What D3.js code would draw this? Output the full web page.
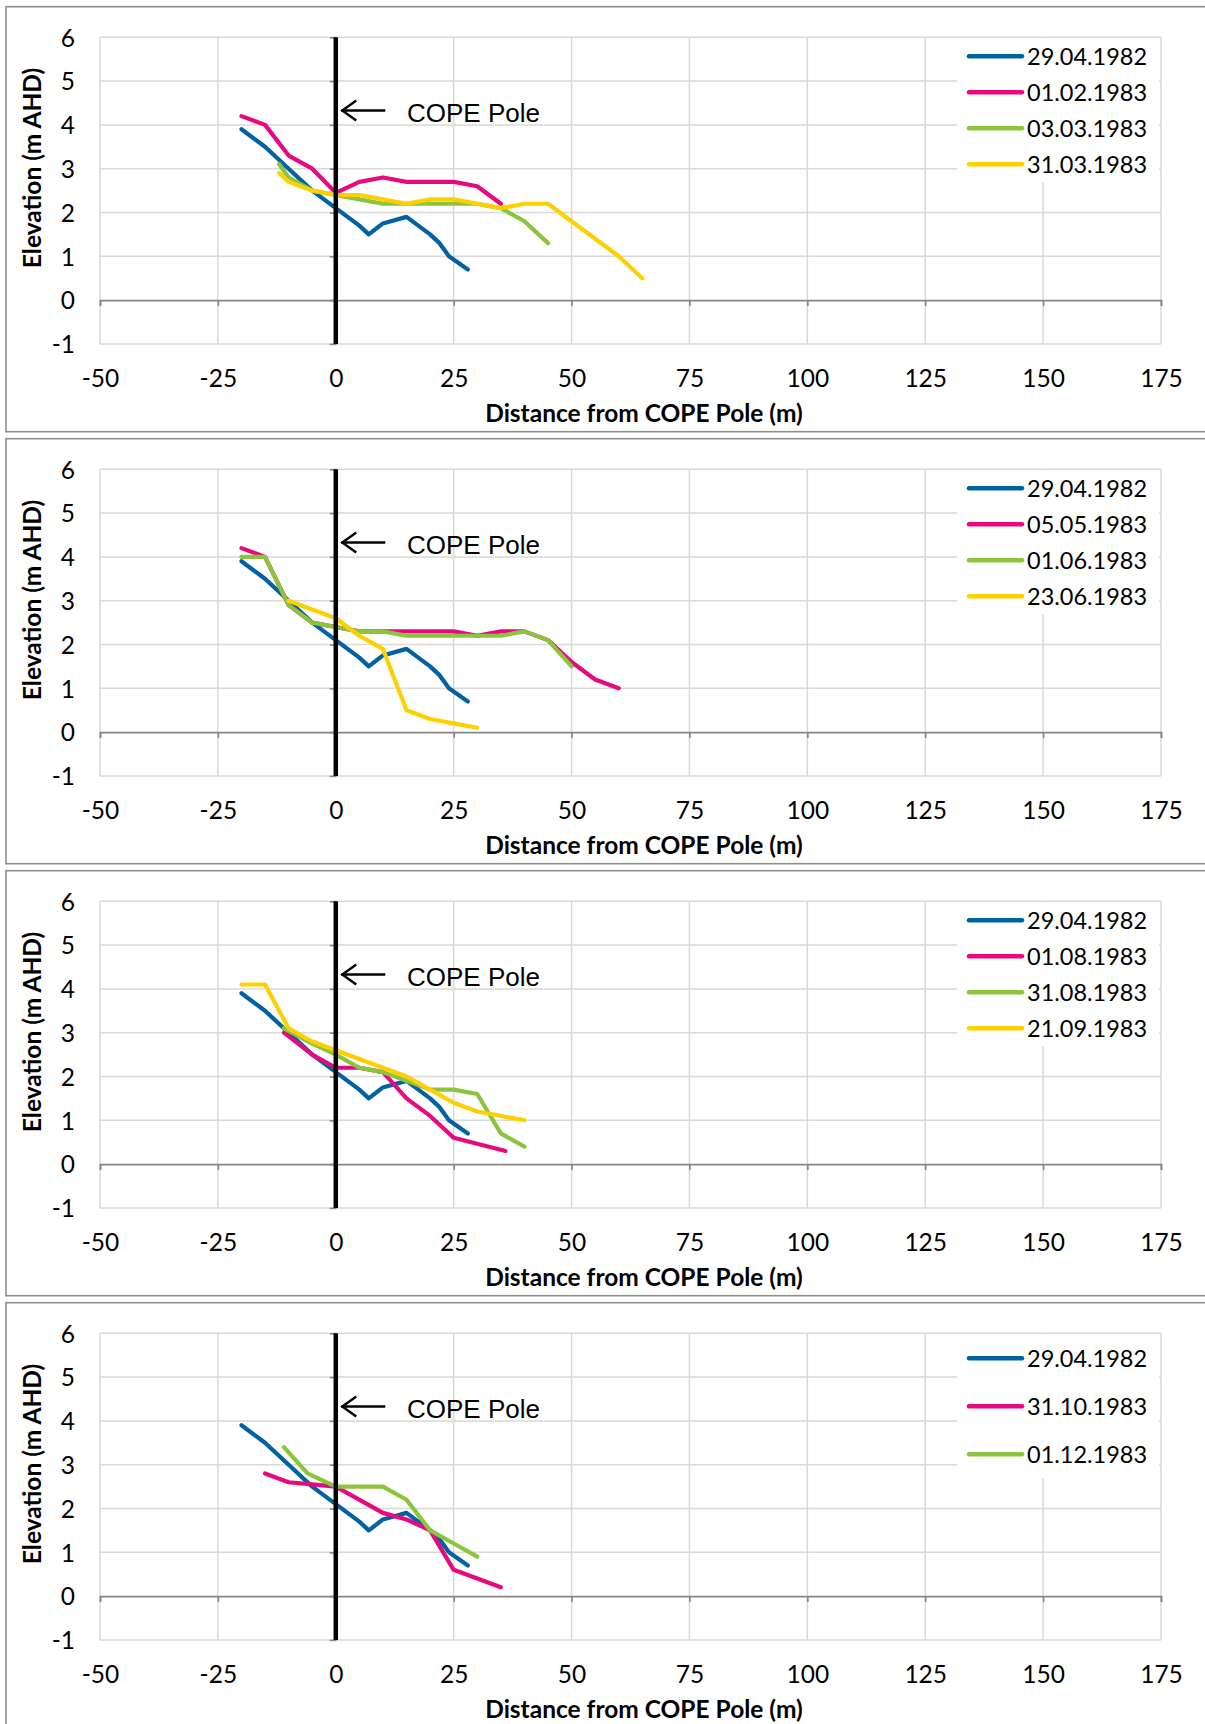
<!DOCTYPE html>
<html>
<head>
<meta charset="utf-8">
<script src="https://cdn.jsdelivr.net/npm/d3@7"></script>
<style>
  html, body { margin: 0; padding: 0; background: #fff; }
  svg { display: block; }
  .tick-label { font-family: Lato, "Open Sans", sans-serif; font-size: 24.5px; fill: #000; }
  .axis-title { font-family: Lato, "Open Sans", sans-serif; font-size: 24.5px; font-weight: bold; fill: #000; }
  .legend-label { font-family: Lato, "Open Sans", sans-serif; font-size: 23.5px; fill: #000; }
  .pole-label { font-family: "Liberation Sans", Arial, sans-serif; font-size: 26px; fill: #000; }
</style>
</head>
<body>
<script>
// Axis ticks
const xTicks = [-50, -25, 0, 25, 50, 75, 100, 125, 150, 175];
const yTicks = [-1, 0, 1, 2, 3, 4, 5, 6];

// Beach profiles: [distance from COPE pole (m), elevation (m AHD)]
const profile_29_04_1982 = [[-20,3.9],[-15,3.5],[-10,3.0],[-5,2.5],[0,2.1],[5,1.7],[7,1.5],[10,1.75],[15,1.9],[20,1.5],[22,1.3],[24,1.0],[28,0.7]];

const profile_01_02_1983 = [[-20,4.2],[-15,4.0],[-10,3.3],[-5,3.0],[0,2.45],[5,2.7],[10,2.8],[15,2.7],[20,2.7],[25,2.7],[30,2.6],[35,2.2]];
const profile_03_03_1983 = [[-12,3.1],[-10,2.8],[-5,2.5],[0,2.4],[5,2.3],[10,2.2],[15,2.2],[20,2.2],[25,2.2],[30,2.2],[35,2.1],[40,1.8],[45,1.3]];
const profile_31_03_1983 = [[-12,2.9],[-10,2.7],[-5,2.5],[0,2.4],[5,2.4],[10,2.3],[15,2.2],[20,2.3],[25,2.3],[30,2.2],[35,2.1],[40,2.2],[45,2.2],[50,1.8],[60,1.0],[65,0.5]];

const profile_05_05_1983 = [[-20,4.2],[-15,4.0],[-10,2.9],[-5,2.5],[0,2.4],[5,2.3],[10,2.3],[15,2.3],[20,2.3],[25,2.3],[30,2.2],[35,2.3],[40,2.3],[45,2.1],[50,1.6],[55,1.2],[60,1.0]];
const profile_01_06_1983 = [[-20,4.0],[-15,4.0],[-10,2.9],[-5,2.5],[0,2.4],[5,2.3],[10,2.3],[15,2.2],[20,2.2],[25,2.2],[30,2.2],[35,2.2],[40,2.3],[45,2.1],[50,1.5]];
const profile_23_06_1983 = [[-10,3.0],[0,2.6],[5,2.2],[10,1.9],[15,0.5],[20,0.3],[25,0.2],[30,0.1]];

const profile_01_08_1983 = [[-11,3.0],[-5,2.5],[0,2.2],[5,2.2],[10,2.1],[15,1.5],[20,1.1],[25,0.6],[36,0.3]];
const profile_31_08_1983 = [[-11,3.1],[-5,2.75],[0,2.5],[5,2.2],[10,2.1],[15,1.9],[20,1.7],[25,1.7],[30,1.6],[35,0.7],[40,0.4]];
const profile_21_09_1983 = [[-20,4.1],[-15,4.1],[-10,3.1],[-5,2.8],[0,2.6],[5,2.4],[10,2.2],[15,2.0],[20,1.7],[25,1.4],[30,1.2],[40,1.0]];

const profile_31_10_1983 = [[-15,2.8],[-10,2.6],[-5,2.55],[0,2.5],[10,1.9],[15,1.75],[20,1.5],[25,0.6],[35,0.2]];
const profile_01_12_1983 = [[-11,3.4],[-6,2.8],[0,2.5],[5,2.5],[10,2.5],[15,2.2],[20,1.5],[25,1.2],[30,0.9]];

// Survey dates shown in each panel's legend
const panelDates = [
  ["29.04.1982", "01.02.1983", "03.03.1983", "31.03.1983"],
  ["29.04.1982", "05.05.1983", "01.06.1983", "23.06.1983"],
  ["29.04.1982", "01.08.1983", "31.08.1983", "21.09.1983"],
  ["29.04.1982", "31.10.1983", "01.12.1983"]
];
const panelProfiles = [
  [profile_29_04_1982, profile_01_02_1983, profile_03_03_1983, profile_31_03_1983],
  [profile_29_04_1982, profile_05_05_1983, profile_01_06_1983, profile_23_06_1983],
  [profile_29_04_1982, profile_01_08_1983, profile_31_08_1983, profile_21_09_1983],
  [profile_29_04_1982, profile_31_10_1983, profile_01_12_1983]
];

const seriesColors = ["#0062a3", "#e6097f", "#8cc43d", "#ffd000"];
const poleLabelElevation = 4.33;

const W = 1205, H = 1724;
const svg = d3.select("body").append("svg").attr("width", W).attr("height", H);

const panelPitch = 432;
const plotTop0 = 37.3;
const plotHeight = 306.6;
const plotLeft = 100, plotRight = 1161;
const plainNumber = d => String(d);

panelProfiles.forEach((profiles, i) => {
  const top = plotTop0 + panelPitch * i;
  const g = svg.append("g");

  const x = d3.scaleLinear().domain([-50, 175]).range([plotLeft, plotRight]);
  const y = d3.scaleLinear().domain([-1, 6]).range([top + plotHeight, top]);

  // chart frame
  g.append("rect")
    .attr("x", 6).attr("y", 6.7 + panelPitch * i)
    .attr("width", 1215).attr("height", 425)
    .attr("fill", "#fff").attr("stroke", "#8e8e8e").attr("stroke-width", 1.6);

  // gridlines
  g.append("g").selectAll("line").data(xTicks).join("line")
    .attr("x1", d => x(d)).attr("x2", d => x(d))
    .attr("y1", y(6)).attr("y2", y(-1))
    .attr("stroke", "#d9d9d9").attr("stroke-width", 1.5);
  g.append("g").selectAll("line").data(yTicks.filter(v => v !== 0)).join("line")
    .attr("x1", x(-50)).attr("x2", x(175))
    .attr("y1", d => y(d)).attr("y2", d => y(d))
    .attr("stroke", "#d9d9d9").attr("stroke-width", 1.5);

  // horizontal axis crossing at zero elevation
  const xAxisLine = g.append("g")
    .attr("transform", `translate(0,${y(0)})`)
    .call(d3.axisBottom(x).tickValues(xTicks).tickSize(6).tickSizeOuter(6).tickFormat(""));
  xAxisLine.selectAll("path, line").attr("stroke", "#868686").attr("stroke-width", 1.6);

  // vertical axis ticks at the pole
  const yAxisLine = g.append("g")
    .attr("transform", `translate(${x(0)},0)`)
    .call(d3.axisLeft(y).tickValues(yTicks).tickSize(6).tickSizeOuter(0).tickFormat(""));
  yAxisLine.selectAll("path, line").attr("stroke", "#868686").attr("stroke-width", 1.6);

  // tick labels
  const xLabels = g.append("g")
    .attr("transform", `translate(0,${y(-1)})`)
    .call(d3.axisBottom(x).tickValues(xTicks).tickSize(0).tickFormat(plainNumber));
  xLabels.select(".domain").remove();
  xLabels.attr("font-family", null).attr("font-size", null);
  xLabels.selectAll("text").attr("class", "tick-label")
    .attr("y", 34.4).attr("dy", "0.36em").attr("fill", null);

  const yLabels = g.append("g")
    .attr("transform", "translate(75,0)")
    .call(d3.axisLeft(y).tickValues(yTicks).tickSize(0).tickPadding(0).tickFormat(plainNumber));
  yLabels.select(".domain").remove();
  yLabels.attr("font-family", null).attr("font-size", null);
  yLabels.selectAll("text").attr("class", "tick-label").attr("dy", "0.36em").attr("fill", null);

  // axis titles
  g.append("text").attr("class", "axis-title")
    .attr("x", 644).attr("y", y(-1) + 68.8).attr("dy", "0.36em")
    .attr("text-anchor", "middle")
    .text("Distance from COPE Pole (m)");
  g.append("text").attr("class", "axis-title")
    .attr("transform", `translate(31.7,${top + 130.7}) rotate(-90)`)
    .attr("dy", "0.36em")
    .attr("text-anchor", "middle")
    .text("Elevation (m AHD)");

  // profile lines
  const line = d3.line().x(d => x(d[0])).y(d => y(d[1]));
  profiles.forEach((p, k) => {
    g.append("path").datum(p)
      .attr("d", line)
      .attr("fill", "none")
      .attr("stroke", seriesColors[k])
      .attr("stroke-width", 4.2)
      .attr("stroke-linejoin", "round")
      .attr("stroke-linecap", "round");
  });

  // COPE pole
  g.append("line")
    .attr("x1", x(0)).attr("x2", x(0))
    .attr("y1", y(6)).attr("y2", y(-1))
    .attr("stroke", "#000").attr("stroke-width", 4.5);

  // pole annotation
  const ay = y(poleLabelElevation);
  const tipX = x(0) + 5.5;
  g.append("line")
    .attr("x1", tipX).attr("x2", tipX + 44)
    .attr("y1", ay).attr("y2", ay)
    .attr("stroke", "#000").attr("stroke-width", 2.4);
  g.append("path")
    .attr("d", `M${tipX + 15},${ay - 10} L${tipX + 1},${ay} L${tipX + 15},${ay + 10}`)
    .attr("fill", "none").attr("stroke", "#000").attr("stroke-width", 2.4);
  g.append("text").attr("class", "pole-label")
    .attr("x", 407).attr("y", ay + 11.3)
    .text("COPE Pole");

  // legend
  const dates = panelDates[i];
  const legTop = top + 1, legH = 144;
  const leg = g.append("g");
  leg.append("rect")
    .attr("x", 957).attr("y", legTop)
    .attr("width", 202).attr("height", legH)
    .attr("fill", "#fff");
  dates.forEach((label, k) => {
    const cy = legTop + legH * (k + 0.5) / dates.length;
    leg.append("line")
      .attr("x1", 969).attr("x2", 1022)
      .attr("y1", cy).attr("y2", cy)
      .attr("stroke", seriesColors[k]).attr("stroke-width", 4.5)
      .attr("stroke-linecap", "round");
    leg.append("text").attr("class", "legend-label")
      .attr("x", 1027).attr("y", cy).attr("dy", "0.36em")
      .text(label);
  });
});
</script>
</body>
</html>
